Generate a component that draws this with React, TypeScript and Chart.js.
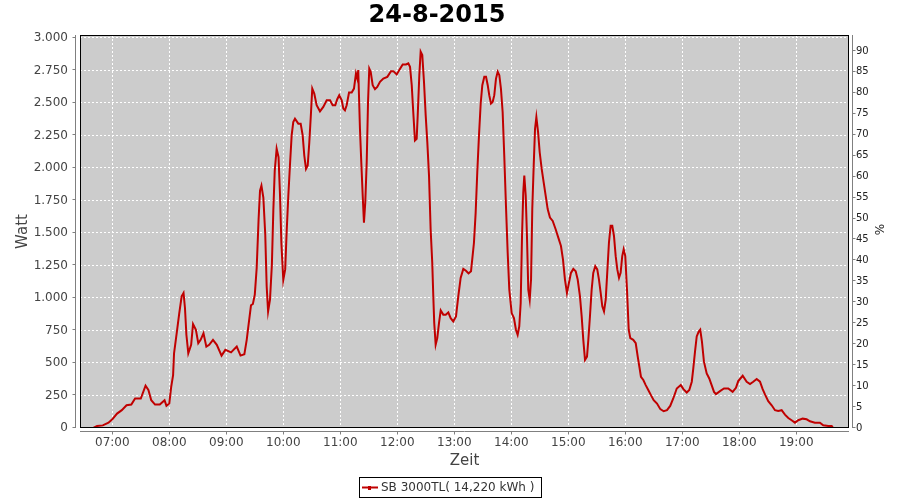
import React, { useEffect, useRef } from "react";
import { Chart, registerables } from "chart.js";

Chart.register(...registerables);

const TITLE = "24-8-2015";
const SERIES_LABEL = "SB 3000TL( 14,220 kWh )";
const X_TITLE = "Zeit";
const Y_TITLE = "Watt";
const Y2_TITLE = "%";

// minutes since midnight
const timesMin = [
  400, 404, 410, 416, 420, 425, 430, 435, 440, 444, 450, 455, 458, 461, 465, 470, 475, 477, 480, 482,
  484, 485, 488, 490.5, 493, 495, 496.5, 498, 500, 503, 505, 508, 510.5, 513, 516, 519, 522, 526, 530, 535,
  539, 545, 551, 555, 559, 561.5, 563, 566, 568, 570, 572, 574, 575.5, 577, 579, 581, 582.5, 584, 586, 588,
  589.5, 591, 593, 595, 596.5, 598, 600, 602, 603.5, 605.3, 607, 608.8, 610.5, 612.3, 615.8, 618.3, 620.4, 622.1, 623.9, 625.7,
  627.4, 629.2, 630.5, 632.6, 635.1, 638.6, 642.1, 645.7, 649.2, 652, 654.7, 656.8, 658.9, 661.5, 663.2, 664.9, 666.7, 669.2, 672, 674.4,
  676.5, 677.9, 678.9, 680.7, 682.1, 683.6, 684.9, 686.3, 687.8, 689.2, 690.5, 692, 694.1, 696.5, 698.9, 701.8, 705.3, 709.5, 713.4, 715.8,
  719.4, 722.1, 725.7, 729.2, 731.6, 733.4, 735.2, 736.8, 738.6, 740.4, 741.5, 743.2, 744.6, 746.3, 748.1, 749.9, 751.6, 753.4, 755.1, 756.8,
  757.9, 758.9, 760.4, 762.1, 763.9, 765.7, 768.4, 771, 773.7, 776.2, 778.9, 781.8, 784.2, 786.7, 789.5, 792.3, 795, 797.6, 798.9, 800.7,
  802.5, 804.2, 806, 807.8, 809.5, 811.6, 813.4, 815.2, 816.8, 818.6, 820.4, 822.1, 823.9, 825.7, 827.4, 829.1, 830.9, 832.6, 834.4, 836.2,
  837.9, 840.4, 842.8, 844.9, 846.7, 848.4, 849.9, 851.3, 852.6, 853.7, 855.2, 856.5, 857.9, 859.4, 860.8, 862.1, 863.6, 865, 866.4, 868.2,
  869.9, 872, 874.1, 876.2, 878.3, 880.7, 883.6, 886.7, 889.5, 892.3, 894.4, 896.5, 898.6, 900.7, 902.8, 905.3, 907.8, 909.9, 912.3, 914.1,
  915.8, 917.6, 919.7, 921.1, 922.8, 924.6, 926.3, 928.4, 930.5, 932.3, 934.1, 935.8, 937.6, 939.4, 941, 942.8, 944.6, 946.3, 948.1, 949.9,
  951.6, 953.4, 955.1, 956.8, 958.3, 960, 961.8, 963.6, 965.3, 968.4, 971, 973.1, 974.8, 976.5, 979, 981.5, 984.2, 987, 989.9, 993.4,
  996.9, 1000.4, 1003.9, 1007.3, 1010.5, 1014.2, 1018.4, 1021.2, 1024.7, 1027.4, 1030, 1031.6, 1033.4, 1035.2, 1037.3, 1038.9, 1040.7, 1042.8, 1045.7, 1048.4,
  1050.9, 1053.4, 1055.5, 1059.7, 1063.9, 1068.4, 1073, 1076.5, 1078.9, 1083.6, 1087.8, 1091.3, 1094.7, 1098.3, 1101.8, 1104.6, 1107.4, 1110.5, 1114.1, 1117.6,
  1121, 1124.6, 1128.1, 1131.6, 1135.1, 1138.6, 1142.1, 1146.7, 1150.9, 1154.4, 1159.6, 1164.9, 1168.4, 1173.7, 1177.3, 1178.9,
];

const watts = [
  0, 15, 20, 41, 67, 111, 137, 175, 180, 227, 227, 325, 292, 214, 180, 180, 214, 170, 188, 317,
  407, 575, 742, 884, 1013, 1039, 923, 717, 575, 640, 799, 756, 652, 678, 729, 626, 640, 678, 640, 557,
  601, 582, 626, 557, 567, 678, 768, 944, 954, 1026, 1232, 1606, 1825, 1864, 1773, 1490, 1090, 897, 988, 1258,
  1670, 1980, 2148, 2083, 1800, 1420, 1140, 1220, 1503, 1787, 2019, 2251, 2353, 2379, 2341, 2341, 2251, 2096, 1993, 2019,
  2199, 2431, 2611, 2573, 2483, 2436, 2470, 2521, 2521, 2483, 2483, 2529, 2560, 2521, 2457, 2444, 2483, 2581, 2581, 2611,
  2727, 2688, 2753, 2302, 2044, 1787, 1580, 1735, 2044, 2508, 2765, 2740, 2637, 2606, 2624, 2663, 2688, 2701, 2745, 2745,
  2720, 2753, 2797, 2797, 2805, 2779, 2637, 2431, 2212, 2225, 2405, 2715, 2895, 2869, 2663, 2405, 2199, 1941, 1529, 1271,
  1013, 807, 640, 691, 807, 905, 872, 872, 889, 845, 820, 858, 1013, 1155, 1224, 1210, 1189, 1206, 1297, 1425,
  1657, 1967, 2251, 2496, 2637, 2701, 2701, 2637, 2560, 2496, 2508, 2560, 2688, 2740, 2714, 2611, 2431, 2096, 1709, 1348,
  1065, 884, 845, 756, 717, 781, 961, 1477, 1812, 1941, 1787, 1477, 1065, 988, 1142, 1684, 2019, 2302, 2392, 2276,
  2121, 1993, 1890, 1787, 1684, 1619, 1593, 1529, 1464, 1400, 1297, 1142, 1039, 1116, 1193, 1224, 1206, 1142, 1013, 858,
  678, 524, 549, 678, 858, 1065, 1193, 1245, 1220, 1142, 1039, 936, 897, 988, 1193, 1425, 1555, 1555, 1477, 1322,
  1220, 1155, 1193, 1322, 1374, 1322, 1065, 756, 691, 678, 652, 549, 472, 394, 369, 330, 292, 253, 214, 188,
  145, 129, 137, 170, 227, 304, 330, 299, 273, 292, 356, 459, 588, 704, 742, 756, 665, 510, 420, 381,
  330, 278, 261, 284, 304, 304, 278, 309, 361, 402, 356, 338, 356, 377, 356, 299, 253, 206, 175, 137,
  131, 137, 103, 77, 60, 41, 60, 72, 67, 52, 41, 41, 21, 15, 15, 0,
];

const hourTicks = [420, 480, 540, 600, 660, 720, 780, 840, 900, 960, 1020, 1080, 1140];
const wattTicks = [0, 250, 500, 750, 1000, 1250, 1500, 1750, 2000, 2250, 2500, 2750, 3000];
const pctTicks = [0, 5, 10, 15, 20, 25, 30, 35, 40, 45, 50, 55, 60, 65, 70, 75, 80, 85, 90];

const FONT = "'DejaVu Sans', 'Liberation Sans', sans-serif";

function fmtHour(m: number): string {
  const h = Math.floor(m / 60);
  const mm = Math.round(m % 60);
  return String(h).padStart(2, "0") + ":" + String(mm).padStart(2, "0");
}

function fmtWatt(v: number): string {
  if (v >= 1000) {
    return Math.floor(v / 1000) + "." + String(v % 1000).padStart(3, "0");
  }
  return String(v);
}

const decorPlugin = {
  id: "decor",
  beforeDraw(chart: any) {
    const { ctx, chartArea: a } = chart;
    ctx.save();
    ctx.fillStyle = "#cccccc";
    ctx.fillRect(a.left, a.top, a.right - a.left, a.bottom - a.top);
    ctx.restore();
  },
  afterDraw(chart: any) {
    const { ctx, chartArea: a, scales } = chart;
    ctx.save();
    // plot frame
    ctx.strokeStyle = "#000000";
    ctx.lineWidth = 1;
    ctx.strokeRect(a.left + 0.5, a.top + 0.5, a.right - a.left - 1, a.bottom - a.top - 1);

    // axis lines offset from plot
    ctx.strokeStyle = "#808080";
    ctx.lineWidth = 1;
    const lx = a.left - 4.5;
    const rx = a.right + 3.5;
    const by = a.bottom + 3.5;
    ctx.beginPath();
    ctx.moveTo(lx, a.top);
    ctx.lineTo(lx, a.bottom);
    ctx.moveTo(rx, a.top);
    ctx.lineTo(rx, a.bottom);
    ctx.moveTo(a.left, by);
    ctx.lineTo(a.right, by);
    wattTicks.forEach((v) => {
      const y = Math.round(scales.y.getPixelForValue(v)) - 0.5;
      ctx.moveTo(lx - 3, y);
      ctx.lineTo(lx, y);
    });
    pctTicks.forEach((v) => {
      const y = Math.round(scales.y1.getPixelForValue(v)) - 0.5;
      ctx.moveTo(rx, y);
      ctx.lineTo(rx + 3, y);
    });
    hourTicks.forEach((v) => {
      const x = Math.round(scales.x.getPixelForValue(v)) + 0.5;
      ctx.moveTo(x, by);
      ctx.lineTo(x, by + 3);
    });
    ctx.stroke();

    // title
    ctx.fillStyle = "#000000";
    ctx.font = "bold 24px " + FONT;
    ctx.textAlign = "center";
    ctx.textBaseline = "alphabetic";
    ctx.fillText(TITLE, 437, 22);

    // axis titles
    ctx.fillStyle = "#444444";
    ctx.font = "15px " + FONT;
    ctx.fillText(X_TITLE, (a.left + a.right) / 2, 465);
    ctx.save();
    ctx.translate(27, (a.top + a.bottom) / 2);
    ctx.rotate(-Math.PI / 2);
    ctx.fillText(Y_TITLE, 0, 0);
    ctx.restore();
    ctx.save();
    ctx.fillStyle = "#222222";
    ctx.font = "12px " + FONT;
    ctx.translate(884, (a.top + a.bottom) / 2 - 2);
    ctx.rotate(-Math.PI / 2);
    ctx.fillText(Y2_TITLE, 0, 0);
    ctx.restore();

    // legend
    ctx.strokeStyle = "#000000";
    ctx.lineWidth = 1;
    ctx.strokeRect(359.5, 477.5, 182, 20);
    ctx.strokeStyle = "#c00000";
    ctx.lineWidth = 2;
    ctx.beginPath();
    ctx.moveTo(362, 487.5);
    ctx.lineTo(378, 487.5);
    ctx.stroke();
    ctx.fillStyle = "#c00000";
    ctx.fillRect(368, 486, 3, 4);
    ctx.fillStyle = "#333333";
    ctx.font = "12px " + FONT;
    ctx.textAlign = "left";
    ctx.textBaseline = "middle";
    ctx.fillText(SERIES_LABEL, 381, 488);
    ctx.restore();
  },
};

export default function App() {
  const ref = useRef<HTMLCanvasElement | null>(null);
  useEffect(() => {
    if (!ref.current) return;
    const points = timesMin.map((t, i) => ({ x: t, y: watts[i] }));
    const chart = new Chart(ref.current, {
      type: "line",
      data: {
        datasets: [
          {
            label: SERIES_LABEL,
            data: points,
            borderColor: "#c00000",
            backgroundColor: "#c00000",
            borderWidth: 2,
            pointRadius: 0,
            tension: 0,
            fill: false,
            yAxisID: "y",
            xAxisID: "x",
          },
        ],
      },
      options: {
        responsive: false,
        animation: false,
        devicePixelRatio: 1,
        layout: { padding: { top: 35, left: 0, right: 0, bottom: 0 } },
        plugins: {
          legend: { display: false },
          title: { display: false },
          tooltip: { enabled: false },
        },
        scales: {
          x: {
            type: "linear",
            position: "bottom",
            min: 386,
            max: 1195.5,
            afterBuildTicks: (s: any) => {
              s.ticks = hourTicks.map((v) => ({ value: v }));
            },
            afterFit: (s: any) => {
              s.height = 72;
            },
            ticks: {
              autoSkip: false,
              maxRotation: 0,
              padding: 8,
              color: "#444444",
              font: { family: FONT, size: 12 },
              callback: (v: any) => fmtHour(Number(v)),
            },
            grid: { color: "#ffffff", lineWidth: 1, drawTicks: false },
            border: { display: false, dash: [2, 2] },
          },
          y: {
            type: "linear",
            position: "left",
            min: 0,
            max: 3023,
            afterBuildTicks: (s: any) => {
              s.ticks = wattTicks.map((v) => ({ value: v }));
            },
            afterFit: (s: any) => {
              s.width = 80;
            },
            ticks: {
              autoSkip: false,
              padding: 12,
              color: "#444444",
              font: { family: FONT, size: 12 },
              callback: (v: any) => fmtWatt(Number(v)),
            },
            grid: { color: "#ffffff", lineWidth: 1, drawTicks: false },
            border: { display: false, dash: [2, 2] },
          },
          y1: {
            type: "linear",
            position: "right",
            display: true,
            min: 0,
            max: 93.8,
            afterBuildTicks: (s: any) => {
              s.ticks = pctTicks.map((v) => ({ value: v }));
            },
            afterFit: (s: any) => {
              s.width = 51;
            },
            ticks: {
              autoSkip: false,
              padding: 7,
              color: "#222222",
              font: { family: FONT, size: 10 },
              callback: (v: any) => String(v),
            },
            grid: { drawOnChartArea: false, drawTicks: false },
            border: { display: false },
          },
        },
      },
      plugins: [decorPlugin],
    });
    return () => chart.destroy();
  }, []);
  return (
    <div style={{ position: "absolute", left: 0, top: 0, width: 900, height: 500, background: "#ffffff" }}>
      <canvas ref={ref} width={900} height={500} />
    </div>
  );
}
